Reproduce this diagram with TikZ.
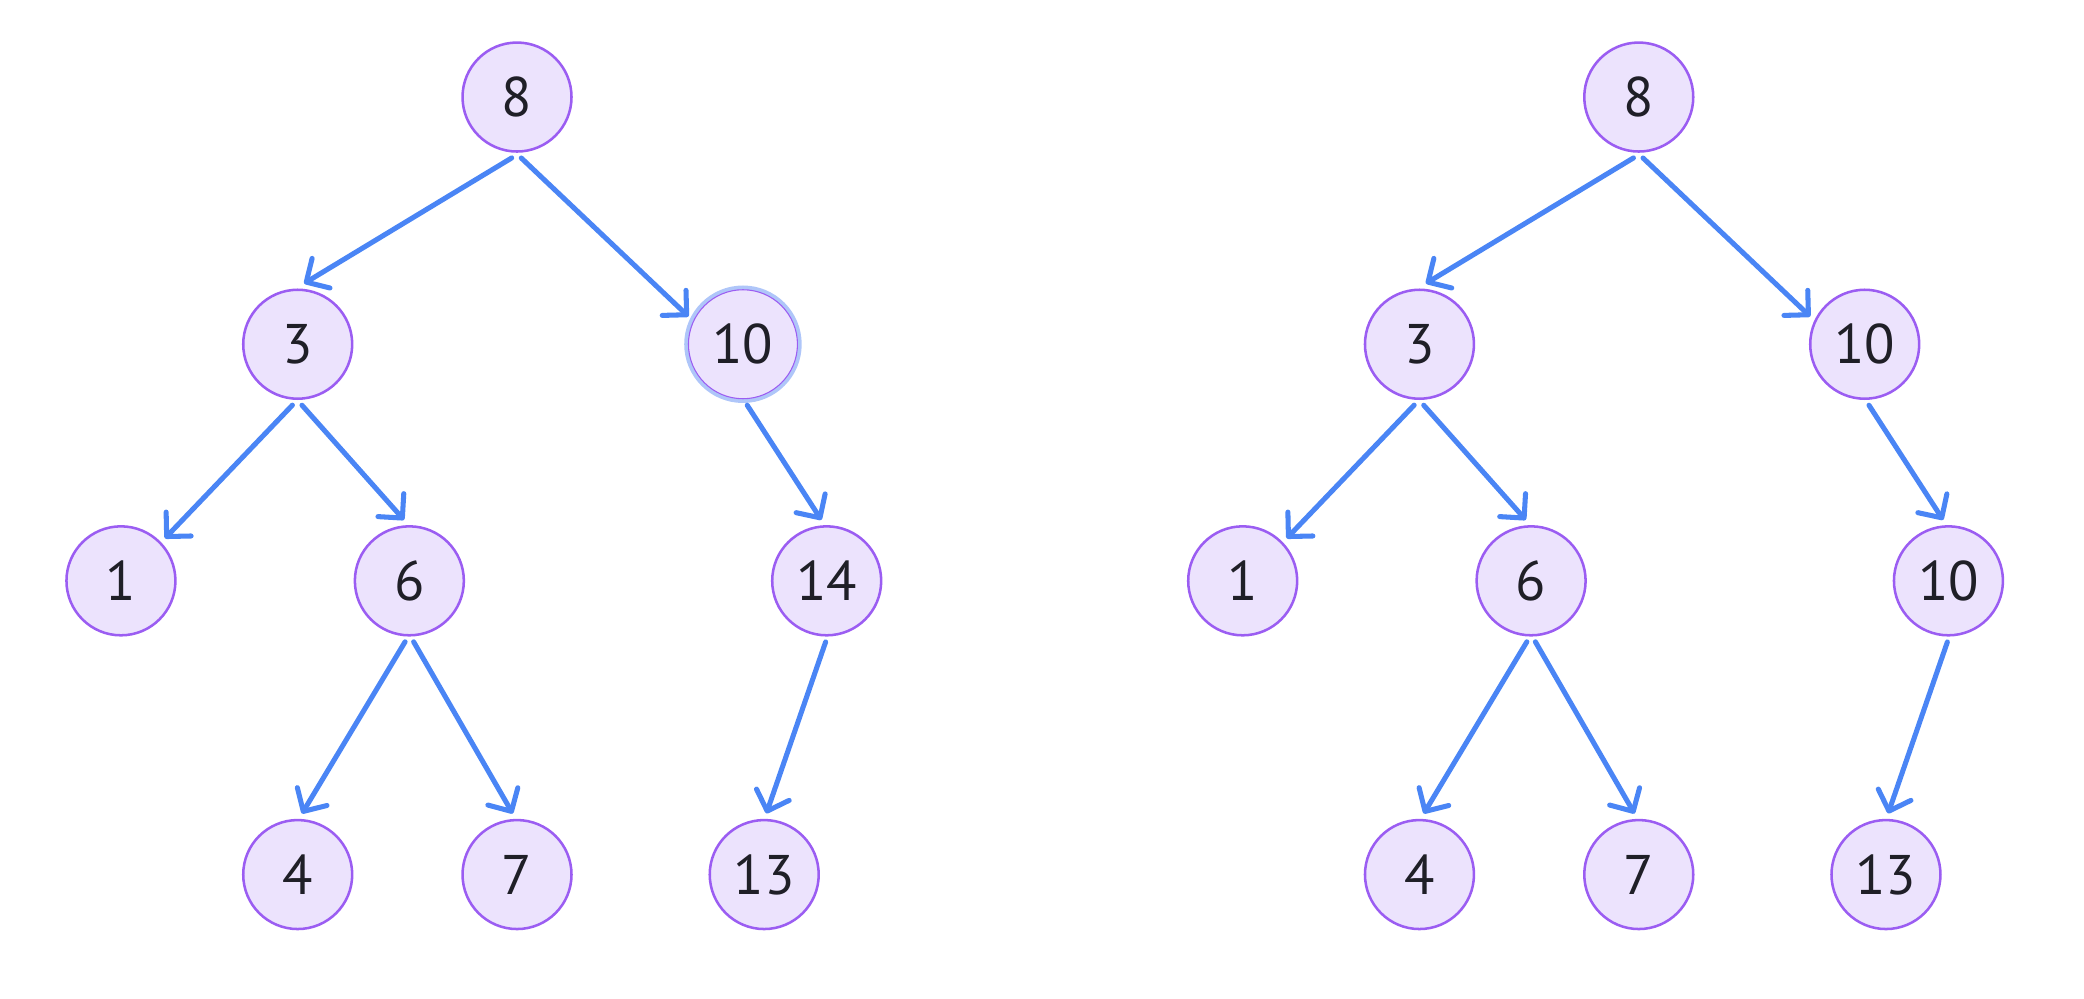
\documentclass[tikz,border=0pt]{standalone}
\usepackage{fontspec}
\setmainfont{PT Sans}
\usetikzlibrary{arrows.meta}
\definecolor{nodefill}{HTML}{ECE3FD}
\definecolor{nodeline}{HTML}{9B5DF2}
\definecolor{edgeblue}{HTML}{4A85F5}
\definecolor{focusring}{HTML}{AFC6F9}
\definecolor{txt}{HTML}{1F1F27}
\tikzset{
  tnode/.style={circle, draw=nodeline, fill=nodefill, line width=0.95pt,
    minimum size=41pt, inner sep=0pt, outer sep=2.5pt,
    text=txt, font=\fontsize{21}{25}\selectfont},
  focused/.style={line width=0.4pt},
  ringstyle/.style={draw=focusring, line width=1.6pt},
  edge/.style={draw=edgeblue, line width=1.9pt, line cap=round,
    -{Straight Barb[length=6.5pt,width=13pt,round]}}
}
\begin{document}
\begin{tikzpicture}[x=0.5pt,y=-0.5pt]
\useasboundingbox (0,0) rectangle (1568,751);
% left tree
\draw[ringstyle] (559,259) circle[radius=21.3pt];
\node[tnode] (n8)  at (389,73)  {8};
\node[tnode] (n3)  at (224,259) {3};
\node[tnode,focused] (n10) at (559,259) {10};
\node[tnode] (n1)  at (91,437)  {1};
\node[tnode] (n6)  at (308,437) {6};
\node[tnode] (n14) at (622,437) {14};
\node[tnode] (n4)  at (224,658) {4};
\node[tnode] (n7)  at (389,658) {7};
\node[tnode] (n13) at (575,658) {13};
\draw[edge] (n8.265) -- (n3.84);
\draw[edge] (n8.274) -- (n10.153);
\draw[edge] (n3.265) -- (n1.44);
\draw[edge] (n3.274) -- (n6.95);
\draw[edge] (n10.274) -- (n14.95);
\draw[edge] (n6.266) -- (n4.86);
\draw[edge] (n6.274) -- (n7.94);
\draw[edge] (n14.269) -- (n13.88);
% right tree
\node[tnode] (m8)  at (1233,73)  {8};
\node[tnode] (m3)  at (1068,259) {3};
\node[tnode] (m10) at (1403,259) {10};
\node[tnode] (m1)  at (935,437)  {1};
\node[tnode] (m6)  at (1152,437) {6};
\node[tnode] (m10b) at (1466,437) {10};
\node[tnode] (m4)  at (1068,658) {4};
\node[tnode] (m7)  at (1233,658) {7};
\node[tnode] (m13) at (1419,658) {13};
\draw[edge] (m8.265) -- (m3.84);
\draw[edge] (m8.274) -- (m10.153);
\draw[edge] (m3.265) -- (m1.44);
\draw[edge] (m3.274) -- (m6.95);
\draw[edge] (m10.274) -- (m10b.95);
\draw[edge] (m6.266) -- (m4.86);
\draw[edge] (m6.274) -- (m7.94);
\draw[edge] (m10b.269) -- (m13.88);
\end{tikzpicture}
\end{document}
